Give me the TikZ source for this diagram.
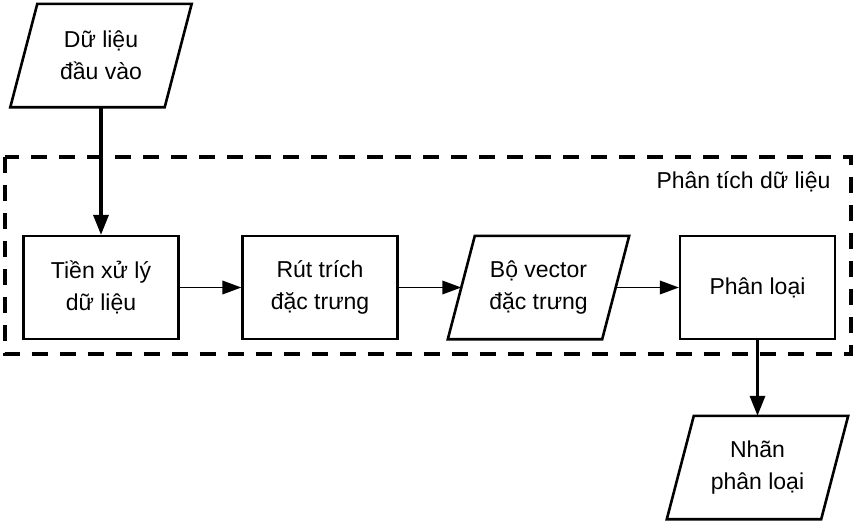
\documentclass[tikz,border=0pt]{standalone}
\usepackage{fontspec}
\setmainfont{Liberation Sans}
\usetikzlibrary{arrows.meta}

\tikzset{
  proc/.style={draw, line width=2.2pt, minimum width=155pt, minimum height=103pt, inner sep=0pt, align=center},
  iodata/.style={minimum width=154pt, minimum height=103pt, inner sep=0pt, align=center},
  thinflow/.style={line width=1.9pt, -{Triangle[length=19pt,width=13.5pt]}},
  thickflow/.style={line width=3.3pt, -{Triangle[length=20pt,width=15pt]}},
}
% khung hinh binh hanh quanh mot node
\newcommand{\slantframe}[1]{%
  \draw[line width=2.6pt] ([xshift=13.5pt]#1.north west) -- ([xshift=13.5pt]#1.north east)
    -- ([xshift=-13.5pt]#1.south east) -- ([xshift=-13.5pt]#1.south west) -- cycle;}

\begin{document}
\begin{tikzpicture}[x=1pt, y=-1pt, font=\fontsize{23}{32}\selectfont]
\useasboundingbox (0,0) rectangle (857,522);
% nhom phan tich
\draw[line width=4pt, dash pattern=on 16pt off 12pt] (4.7,157) rectangle (851,354);
\node[anchor=base east] (group) at (834,188) {Phân tích dữ liệu};
% cac buoc
\node[iodata] (input) at (101,55.5) {Dữ liệu\\đầu vào};
\slantframe{input}
\node[proc] (prep) at (101,287.5) {Tiền xử lý\\dữ liệu};
\node[proc] (extract) at (320,287.5) {Rút trích\\đặc trưng};
\node[iodata] (vec) at (538.5,287.5) {Bộ vector\\đặc trưng};
\slantframe{vec}
\node[proc] (classify) at (757.5,287.5) {Phân loại};
\node[iodata] (label) at (757.5,467.5) {Nhãn\\phân loại};
\slantframe{label}
% mui ten
\draw[thickflow] (input.south) -- (prep.north);
\draw[thinflow] (prep) -- (extract);
\draw[thinflow] (extract) -- (vec);
\draw[thinflow] (vec) -- (classify);
\draw[thickflow] (classify.south) -- (label.north);
\end{tikzpicture}
\end{document}
